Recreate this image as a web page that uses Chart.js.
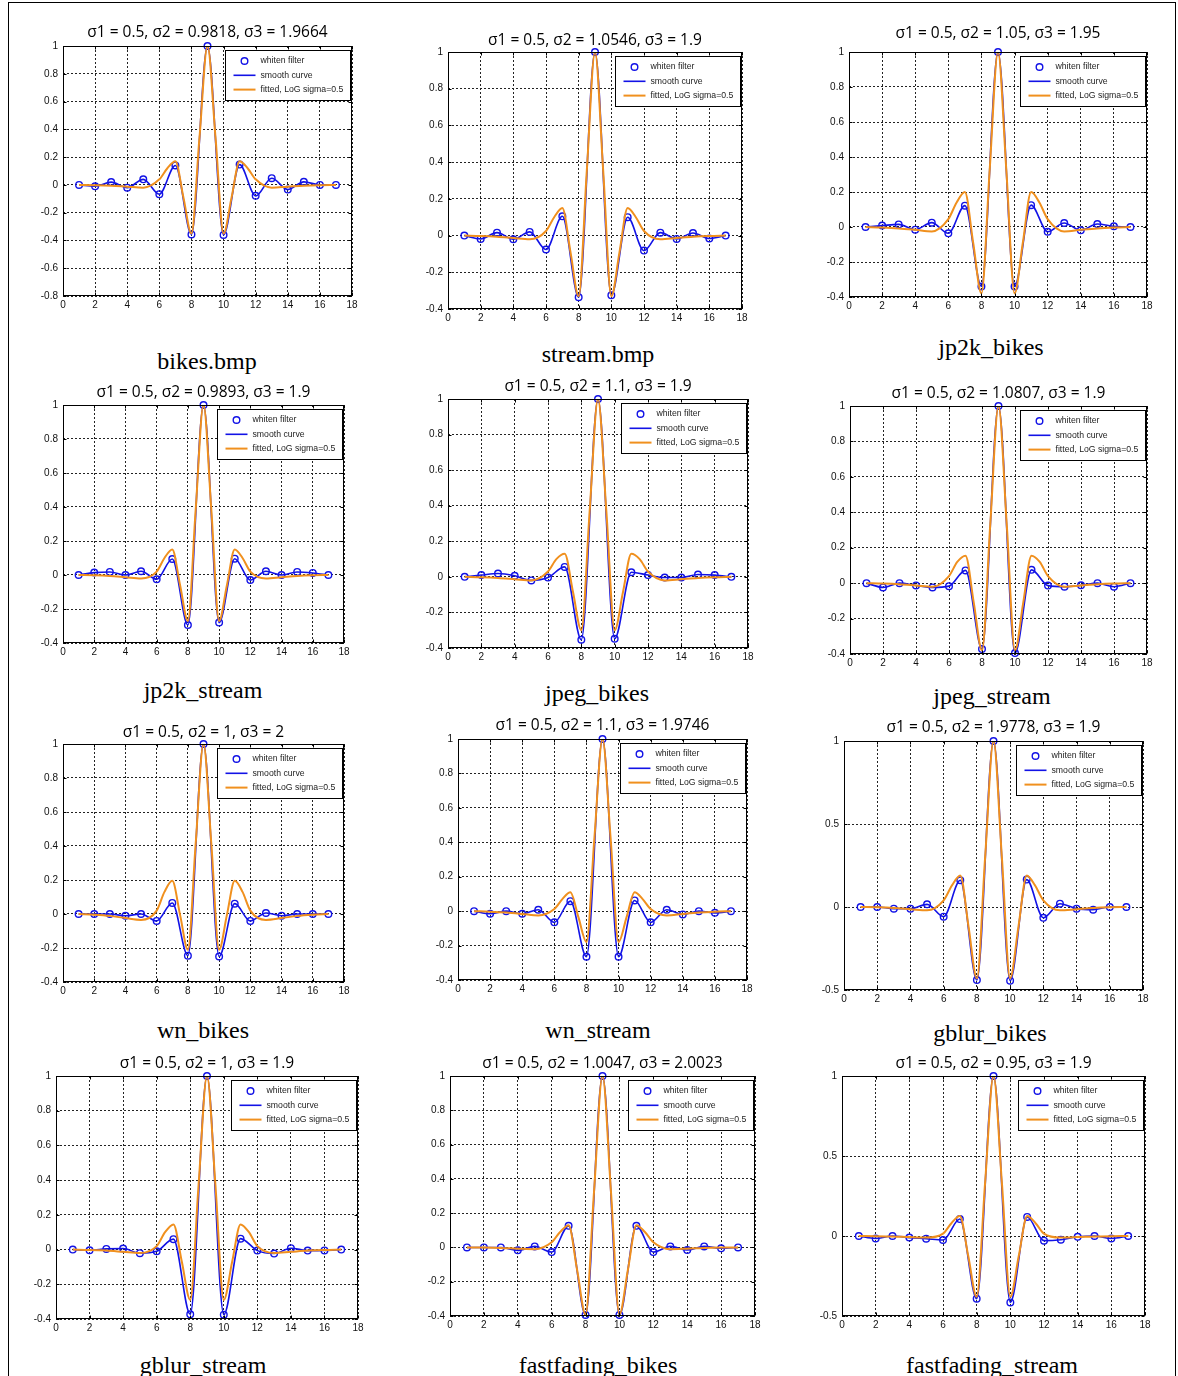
<!DOCTYPE html>
<html><head><meta charset="utf-8">
<script src="https://cdn.jsdelivr.net/npm/chart.js@4.4.1/dist/chart.umd.min.js"></script>
<style>
html,body{margin:0;padding:0;background:#fff;overflow:hidden;}
#page{position:relative;width:1178px;height:1376px;overflow:hidden;}
#frame{position:absolute;left:8px;top:2px;width:1166px;height:1400px;border:1px solid #000;}
canvas{position:absolute;}
.cap{position:absolute;width:300px;margin-left:-150px;text-align:center;font-family:"Liberation Serif","Times New Roman",serif;font-size:24px;line-height:24px;color:#000;white-space:nowrap;}
</style></head>
<body><div id="page"><div id="frame"></div></div>
<script>
// ---------------- data ----------------
const panelNames = ["bikes.bmp","stream.bmp","jp2k_bikes","jp2k_stream","jpeg_bikes","jpeg_stream",
                    "wn_bikes","wn_stream","gblur_bikes","gblur_stream","fastfading_bikes","fastfading_stream"];
const sigma1 = 0.5;
const sigma2 = [0.9818, 1.0546, 1.05, 0.9893, 1.1, 1.0807, 1, 1.1, 1.9778, 1, 1.0047, 0.95];
const sigma3 = [1.9664, 1.9, 1.95, 1.9, 1.9, 1.9, 2, 1.9746, 1.9, 1.9, 2.0023, 1.9];

const filterTaps = [1,2,3,4,5,6,7,8,9,10,11,12,13,14,15,16,17];
const whiten_bikes      = [0,-0.01,0.02,-0.02,0.04,-0.067,0.14,-0.357,1,-0.36,0.146,-0.079,0.048,-0.034,0.022,0,0];
const whiten_stream     = [0,-0.018,0.016,-0.02,0.02,-0.076,0.105,-0.336,1,-0.325,0.1,-0.082,0.016,-0.018,0.014,-0.016,0];
const whiten_jp2k_b     = [0,0.008,0.015,-0.015,0.025,-0.036,0.122,-0.34,1,-0.34,0.125,-0.027,0.023,-0.019,0.017,0.004,0];
const whiten_jp2k_s     = [0,0.014,0.018,0,0.022,-0.025,0.094,-0.294,1,-0.28,0.096,-0.03,0.022,0,0.018,0.012,0];
const whiten_jpeg_b     = [0,0.01,0.019,0.006,-0.02,-0.004,0.056,-0.353,1,-0.348,0.026,0.01,-0.004,-0.004,0.013,0.01,0];
const whiten_jpeg_s     = [0,-0.024,0,-0.013,-0.024,-0.017,0.072,-0.372,1,-0.395,0.075,-0.014,-0.02,-0.012,0,-0.02,0];
const whiten_wn_b       = [0,0,0,-0.01,0,-0.041,0.065,-0.245,1,-0.25,0.061,-0.041,0.006,-0.01,0,0,0];
const whiten_wn_s       = [0,-0.015,0,-0.015,0.008,-0.065,0.058,-0.265,1,-0.265,0.062,-0.065,0.008,-0.019,0,-0.01,0];
const whiten_gblur_b    = [0,0,-0.01,-0.01,0.016,-0.058,0.161,-0.44,1,-0.444,0.165,-0.065,0.02,-0.01,-0.016,0,0];
const whiten_gblur_s    = [0,-0.004,0.004,0.006,-0.021,-0.01,0.06,-0.373,1,-0.375,0.063,-0.006,-0.023,0.008,-0.006,-0.005,0];
const whiten_ff_b       = [0,0,0,-0.017,0.006,-0.027,0.126,-0.394,1,-0.394,0.126,-0.027,0.006,-0.015,0.006,-0.005,0];
const whiten_ff_s       = [0,-0.015,0,-0.01,-0.017,-0.025,0.106,-0.392,1,-0.415,0.119,-0.029,-0.023,-0.005,0,-0.015,0];

const fitX = [1,2,3,4,5,6,6.5,7,7.5,8,8.5,9,9.5,10,10.5,11,11.5,12,13,14,15,16,17];
const fit_bikes   = [0,-0.002,-0.006,-0.013,-0.02,0.04,0.12,0.17,-0.09,-0.35,0.34,1,0.34,-0.35,-0.09,0.17,0.12,0.04,-0.02,-0.013,-0.006,-0.002,0];
const fit_stream  = [0,-0.002,-0.006,-0.013,-0.02,0.025,0.10,0.15,-0.09,-0.33,0.355,1,0.355,-0.33,-0.09,0.15,0.10,0.025,-0.02,-0.013,-0.006,-0.002,0];
const fit_jp2k_b  = [0,-0.003,-0.008,-0.016,-0.025,0.045,0.14,0.20,-0.09,-0.38,0.33,1,0.33,-0.38,-0.09,0.20,0.14,0.045,-0.025,-0.016,-0.008,-0.003,0];
const fit_jp2k_s  = [0,-0.002,-0.006,-0.013,-0.02,0.02,0.10,0.15,-0.06,-0.27,0.385,1,0.385,-0.27,-0.06,0.15,0.10,0.02,-0.02,-0.013,-0.006,-0.002,0];
const fit_jpeg_b  = [0,-0.002,-0.006,-0.013,-0.02,0.03,0.10,0.13,-0.085,-0.30,0.37,1,0.37,-0.30,-0.085,0.13,0.10,0.03,-0.02,-0.013,-0.006,-0.002,0];
const fit_jpeg_s  = [0,-0.002,-0.006,-0.013,-0.02,0.04,0.12,0.155,-0.11,-0.38,0.33,1,0.33,-0.38,-0.11,0.155,0.12,0.04,-0.02,-0.013,-0.006,-0.002,0];
const fit_wn_b    = [0,-0.004,-0.011,-0.024,-0.035,0.02,0.13,0.195,-0.005,-0.21,0.415,1,0.415,-0.21,-0.005,0.195,0.13,0.02,-0.035,-0.024,-0.011,-0.004,0];
const fit_wn_s    = [0,-0.003,-0.008,-0.016,-0.025,0.012,0.07,0.11,-0.035,-0.18,0.43,1,0.43,-0.18,-0.035,0.11,0.07,0.012,-0.025,-0.016,-0.008,-0.003,0];
const fit_gblur_b = [0,-0.002,-0.006,-0.013,-0.02,0.04,0.13,0.19,-0.12,-0.43,0.305,1,0.305,-0.43,-0.12,0.19,0.13,0.04,-0.02,-0.013,-0.006,-0.002,0];
const fit_gblur_s = [0,-0.002,-0.006,-0.013,-0.02,0.02,0.10,0.145,-0.07,-0.29,0.375,1,0.375,-0.29,-0.07,0.145,0.10,0.02,-0.02,-0.013,-0.006,-0.002,0];
const fit_ff_b    = [0,-0.001,-0.003,-0.007,-0.01,0.03,0.09,0.13,-0.13,-0.39,0.325,1,0.325,-0.39,-0.13,0.13,0.09,0.03,-0.01,-0.007,-0.003,-0.001,0];
const fit_ff_s    = [0,-0.001,-0.003,-0.007,-0.01,0.015,0.08,0.125,-0.125,-0.38,0.33,1,0.33,-0.38,-0.125,0.125,0.08,0.015,-0.01,-0.007,-0.003,-0.001,0];

const xTickValues = [0,2,4,6,8,10,12,14,16,18];
const yTicksWide  = [-0.8,-0.6,-0.4,-0.2,0,0.2,0.4,0.6,0.8,1];
const yTicksStd   = [-0.4,-0.2,0,0.2,0.4,0.6,0.8,1];
const yTicksHalf  = [-0.5,0,0.5,1];

const legendLabels = ["whiten filter","smooth curve","fitted, LoG sigma=0.5"];

const whitenSets = [whiten_bikes,whiten_stream,whiten_jp2k_b,whiten_jp2k_s,whiten_jpeg_b,whiten_jpeg_s,
                    whiten_wn_b,whiten_wn_s,whiten_gblur_b,whiten_gblur_s,whiten_ff_b,whiten_ff_s];
const fitSets = [fit_bikes,fit_stream,fit_jp2k_b,fit_jp2k_s,fit_jpeg_b,fit_jpeg_s,
                 fit_wn_b,fit_wn_s,fit_gblur_b,fit_gblur_s,fit_ff_b,fit_ff_s];
const yTickSets = [yTicksWide,yTicksStd,yTicksStd,yTicksStd,yTicksStd,yTicksStd,
                   yTicksStd,yTicksStd,yTicksHalf,yTicksStd,yTicksStd,yTicksHalf];

// ---------------- layout (positions / styles) ----------------
// plot area [left, top, right, bottom, titleCenterY]
const plotBoxes = [
  [63,46,352,296,33.3],[448,52,742,309,40.7],[849,52,1147,297,34.3],
  [63,405,344,643,392.7],[448,399,748,648,386.7],[850,406,1147,654,393.7],
  [63,744,344,982,733],[458,739,747,980,725.7],[844,741,1143,990,728],
  [56,1076,358,1319,1063.7],[450,1076,755,1316,1063.7],[842,1076,1145,1316,1063.7]
];
const captionPos = [[207,364],[598,357],[991,350],[203,693],[597,696],[992,699],
                    [203,1033],[598,1033],[990,1036],[203,1368],[598,1368],[992,1368]];

const BLUE = '#1212e6', ORANGE = '#f0901e';
const YW = 30, XH = 20, PADR = 12, PADB = 2, TITLE_LH = 18;

Chart.defaults.font.family = '"Liberation Sans", Arial, sans-serif';

const matlabAxes = {
  id: 'matlabAxes',
  afterDatasetsDraw(chart) {
    const {ctx, chartArea: a, scales: {x, y}} = chart;
    ctx.save();
    ctx.setLineDash([]);
    ctx.strokeStyle = '#000';
    ctx.lineWidth = 1;
    const l = Math.round(a.left) + 0.5, r = Math.round(a.right) - 0.5;
    const t = Math.round(a.top) + 0.5, b = Math.round(a.bottom) - 0.5;
    ctx.beginPath();
    for (const tk of x.ticks) {
      const px = Math.round(x.getPixelForValue(tk.value)) + 0.5;
      ctx.moveTo(px, b); ctx.lineTo(px, b - 3);
      ctx.moveTo(px, t); ctx.lineTo(px, t + 3);
    }
    for (const tk of y.ticks) {
      const py = Math.round(y.getPixelForValue(tk.value)) + 0.5;
      ctx.moveTo(l, py); ctx.lineTo(l + 3, py);
      ctx.moveTo(r, py); ctx.lineTo(r - 3, py);
    }
    ctx.stroke();
    ctx.strokeRect(l, t, r - l, b - t);

    // legend box inside the axes (top-right)
    ctx.font = '8.7px "Liberation Sans", Arial, sans-serif';
    const ds = chart.data.datasets;
    const order = legendLabels.map(lb => ds.find(d => d.label === lb));
    let tw = 0;
    for (const d of order) tw = Math.max(tw, ctx.measureText(d.label).width);
    const w = Math.round(35 + tw + 7), h = 50;
    const bx = Math.round(a.right - 2 - w) + 0.5, by = Math.round(a.top + 4) + 0.5;
    ctx.fillStyle = '#fff';
    ctx.fillRect(bx, by, w, h);
    ctx.strokeStyle = '#000';
    ctx.strokeRect(bx, by, w, h);
    ctx.textBaseline = 'middle';
    ctx.textAlign = 'left';
    order.forEach((d, k) => {
      const ry = by + 10.5 + k * 14.3;
      if (d.showLine === false) {
        ctx.beginPath();
        ctx.strokeStyle = d.pointBorderColor;
        ctx.lineWidth = d.pointBorderWidth;
        ctx.arc(bx + 19, ry, d.pointRadius, 0, Math.PI * 2);
        ctx.stroke();
      } else {
        ctx.beginPath();
        ctx.strokeStyle = d.borderColor;
        ctx.lineWidth = d.borderWidth;
        ctx.moveTo(bx + 8, ry); ctx.lineTo(bx + 30, ry);
        ctx.stroke();
      }
      ctx.fillStyle = '#222';
      ctx.fillText(d.label, bx + 35, ry);
    });
    ctx.restore();
  }
};

const page = document.getElementById('page');

function makePanel(i) {
  const [L, T, R, B, ty] = plotBoxes[i];
  const cTop = Math.round(ty - TITLE_LH / 2);
  const cLeft = L - YW;
  const w = YW + (R - L) + PADR;
  const h = (B - cTop) + XH + PADB;
  const pb = T - cTop - TITLE_LH;
  const cv = document.createElement('canvas');
  cv.width = w; cv.height = h;
  cv.style.left = cLeft + 'px'; cv.style.top = cTop + 'px';
  cv.style.width = w + 'px'; cv.style.height = h + 'px';
  page.appendChild(cv);

  const whiten = filterTaps.map((x, k) => ({x, y: whitenSets[i][k]}));
  const fitted = fitX.map((x, k) => ({x, y: fitSets[i][k]}));
  const yT = yTickSets[i];

  new Chart(cv, {
    type: 'line',
    data: {
      datasets: [
        {label: legendLabels[2], data: fitted, showLine: true, borderColor: ORANGE, borderWidth: 2,
         pointRadius: 0, cubicInterpolationMode: 'monotone', fill: false, order: 0},
        {label: legendLabels[1], data: whiten, showLine: true, borderColor: BLUE, borderWidth: 1.6,
         pointRadius: 0, cubicInterpolationMode: 'monotone', fill: false, order: 1},
        {label: legendLabels[0], data: whiten, showLine: false, pointRadius: 3.3, pointBorderWidth: 1.4,
         pointBorderColor: BLUE, pointBackgroundColor: 'rgba(0,0,0,0)', borderColor: BLUE,
         pointStyle: 'circle', clip: false, order: 2}
      ]
    },
    options: {
      responsive: false, animation: false, devicePixelRatio: 1,
      layout: {padding: {left: 0, right: PADR, top: 0, bottom: PADB}},
      plugins: {
        legend: {display: false},
        tooltip: {enabled: false},
        title: {
          display: true, fullSize: false,
          text: 'σ1 = ' + sigma1 + ', σ2 = ' + sigma2[i] + ', σ3 = ' + sigma3[i],
          color: '#000',
          font: {family: '"Open Sans", "Noto Sans", sans-serif', size: 15.5, weight: 'normal', lineHeight: 18 / 15.5},
          padding: {top: 0, bottom: pb}
        }
      },
      scales: {
        x: {
          type: 'linear', min: 0, max: 18,
          afterFit: s => { s.height = XH; },
          afterBuildTicks: s => { s.ticks = xTickValues.map(v => ({value: v})); },
          ticks: {autoSkip: false, maxRotation: 0, padding: 3, color: '#111',
                  font: {size: 10}, callback: v => String(v)},
          grid: {color: '#222', lineWidth: 1, drawTicks: false},
          border: {display: false, dash: [2, 2]}
        },
        y: {
          type: 'linear', min: yT[0], max: yT[yT.length - 1],
          afterFit: s => { s.width = YW; },
          afterBuildTicks: s => { s.ticks = yT.map(v => ({value: v})); },
          ticks: {autoSkip: false, padding: 5, color: '#111',
                  font: {size: 10}, callback: v => String(v)},
          grid: {color: '#222', lineWidth: 1, drawTicks: false},
          border: {display: false, dash: [2, 2]}
        }
      }
    },
    plugins: [matlabAxes]
  });

  const cap = document.createElement('div');
  cap.className = 'cap';
  cap.textContent = panelNames[i];
  cap.style.left = captionPos[i][0] + 'px';
  cap.style.top = (captionPos[i][1] - 15) + 'px';
  page.appendChild(cap);
}

for (let i = 0; i < plotBoxes.length; i++) makePanel(i);
</script>
</body></html>
